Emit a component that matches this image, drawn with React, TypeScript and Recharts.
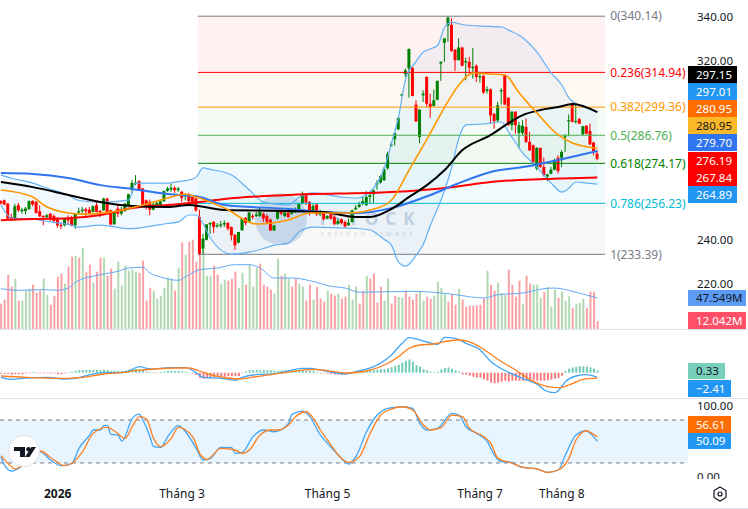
import { ComposedChart, Bar, Line, Area, XAxis, YAxis, Cell, ReferenceLine, ReferenceArea } from 'recharts';

const FONT = '"Noto Sans", sans-serif';
const CHART_W = 748;
const AXIS_W = 58;
const X_DOMAIN: [number, number] = [-0.25, 194.1];

const opens = [
  257.3, 257.6, 256.1, 250.1, 249.0, 255.4, 252.7, 252.8, 253.6, 257.3,
  256.9, 252.7, 250.6, 250.1, 251.6, 250.6, 249.0, 246.5, 246.4, 249.4,
  249.7, 246.4, 252.1, 252.8, 253.6, 253.4, 252.4, 255.4, 252.8, 253.1,
  258.4, 253.1, 246.8, 253.9, 251.6, 252.8, 255.4, 262.4, 265.1, 266.2,
  262.9, 257.6, 256.9, 253.4, 255.4, 255.4, 257.2, 261.8, 262.4, 263.2,
  262.1, 261.4, 259.4, 260.3, 259.1, 258.4, 250.1, 235.9, 239.9, 246.8,
  247.9, 245.9, 246.2, 246.8, 247.4, 245.6, 242.2, 238.6, 244.1, 249.7,
  247.9, 250.6, 250.6, 250.6, 251.6, 250.6, 248.9, 244.1, 249.4, 253.1,
  250.6, 252.1, 251.6, 252.2, 252.4, 256.1, 259.9, 256.9, 252.4, 255.7,
  251.2, 252.1, 249.4, 252.4, 250.1, 247.1, 249.1, 247.9, 246.4, 247.9,
  253.6, 254.6, 256.1, 255.4, 259.1, 260.3, 264.7, 265.6, 266.6, 271.9,
  282.3, 285.0, 289.4, 304.6, 314.1, 316.7, 317.0, 300.5, 285.9, 304.7,
  312.9, 300.9, 299.9, 302.7, 318.9, 328.2, 335.9, 336.2, 325.2, 320.4,
  326.1, 319.4, 319.7, 316.8, 317.9, 312.9, 313.4, 306.6, 307.3, 296.4,
  293.4, 306.7, 313.8, 303.6, 291.3, 297.3, 287.8, 287.8, 290.5, 283.8,
  282.3, 271.8, 281.1, 272.5, 268.3, 269.5, 271.3, 276.7, 276.7, 286.0,
  293.2, 301.0, 292.9, 294.0, 287.2, 291.0, 288.7, 283.5, 278.5,
];
const closes = [
  256.1, 255.7, 249.4, 248.6, 254.9, 253.1, 253.4, 253.9, 257.2, 255.7,
  251.9, 250.4, 250.1, 250.9, 249.4, 248.3, 246.4, 246.2, 249.4, 248.6,
  246.4, 251.6, 252.7, 253.4, 252.7, 251.6, 254.9, 252.4, 252.4, 258.4,
  252.4, 246.8, 252.7, 251.6, 252.8, 256.1, 260.3, 265.4, 265.5, 262.4,
  255.4, 255.4, 253.4, 255.8, 256.4, 257.2, 261.7, 262.9, 263.2, 262.1,
  262.9, 258.6, 259.9, 257.3, 256.9, 253.1, 233.6, 240.4, 246.8, 247.4,
  245.6, 246.4, 246.8, 247.4, 244.9, 241.9, 237.4, 243.4, 249.4, 247.4,
  252.1, 250.1, 251.2, 252.4, 249.4, 247.9, 244.1, 246.4, 253.1, 251.6,
  252.1, 250.1, 253.1, 253.4, 256.1, 260.3, 256.6, 252.4, 255.1, 251.3,
  252.7, 249.1, 250.6, 249.4, 247.1, 248.3, 247.4, 245.9, 247.6, 253.1,
  254.3, 255.7, 257.3, 259.1, 259.9, 262.1, 265.4, 268.5, 271.6, 278.3,
  282.6, 287.7, 294.6, 305.1, 315.9, 325.4, 304.4, 293.0, 298.3, 305.4,
  300.9, 299.4, 302.4, 311.1, 319.7, 330.2, 339.5, 324.6, 320.4, 326.1,
  317.9, 320.0, 317.1, 317.4, 312.9, 313.2, 305.9, 307.3, 295.7, 293.1,
  300.2, 307.0, 300.5, 291.3, 297.3, 291.3, 291.3, 291.0, 283.8, 280.0,
  274.8, 281.1, 272.5, 268.8, 269.2, 271.3, 275.1, 270.7, 279.3, 286.3,
  293.5, 292.8, 293.2, 292.0, 290.8, 287.5, 282.7, 279.7, 276.2,
];
const highs = [
  257.6, 257.9, 256.4, 251.6, 256.1, 256.4, 254.3, 254.6, 257.6, 257.6,
  257.3, 255.4, 250.9, 251.6, 251.9, 251.3, 250.1, 247.9, 249.7, 250.9,
  250.6, 251.9, 254.3, 254.6, 254.3, 254.6, 255.4, 256.9, 253.4, 258.7,
  258.7, 253.4, 252.8, 256.1, 254.6, 256.4, 260.6, 266.6, 268.9, 266.6,
  263.2, 257.9, 257.9, 256.9, 256.9, 257.6, 262.1, 263.6, 265.1, 263.9,
  263.6, 261.8, 260.6, 260.9, 259.9, 259.9, 253.4, 242.6, 246.8, 247.9,
  248.3, 247.4, 248.3, 248.6, 247.9, 245.9, 242.3, 243.4, 249.7, 250.1,
  252.4, 251.6, 252.4, 254.3, 252.1, 251.3, 249.4, 246.4, 253.4, 253.4,
  252.8, 252.7, 253.9, 254.3, 256.4, 261.5, 260.6, 257.2, 256.1, 256.4,
  253.4, 252.4, 250.9, 252.7, 250.9, 249.4, 249.4, 248.6, 249.4, 253.4,
  255.4, 256.9, 259.1, 261.8, 261.8, 262.4, 266.6, 268.9, 272.6, 279.4,
  283.7, 288.2, 294.6, 305.4, 316.7, 325.7, 317.4, 302.4, 298.3, 306.9,
  313.2, 305.4, 307.2, 311.4, 319.9, 330.2, 340.4, 339.2, 325.2, 330.2,
  326.4, 321.6, 321.9, 325.9, 318.5, 315.2, 313.7, 308.7, 307.7, 296.7,
  301.7, 307.8, 314.2, 303.7, 297.6, 297.6, 292.8, 293.5, 294.3, 288.3,
  282.6, 281.5, 281.2, 276.7, 269.5, 272.5, 276.3, 277.8, 280.0, 287.2,
  296.1, 301.3, 300.7, 294.6, 291.0, 291.3, 292.0, 283.8, 280.0,
];
const lows = [
  255.8, 255.4, 249.0, 248.3, 248.3, 252.4, 251.6, 251.3, 253.4, 254.9,
  251.6, 250.1, 246.4, 249.4, 248.3, 247.4, 245.3, 244.7, 245.9, 246.8,
  245.9, 244.7, 251.3, 251.6, 250.1, 251.3, 252.2, 252.2, 250.1, 252.8,
  251.6, 246.4, 246.8, 250.1, 250.9, 252.5, 255.0, 260.6, 264.4, 262.1,
  254.9, 253.4, 250.9, 253.1, 254.9, 255.0, 256.9, 261.4, 261.4, 260.9,
  261.4, 256.9, 257.6, 255.4, 255.4, 252.4, 232.9, 233.6, 239.6, 242.6,
  242.9, 245.3, 245.3, 245.6, 244.1, 239.6, 235.4, 238.4, 244.1, 246.4,
  247.6, 249.0, 250.1, 250.1, 247.9, 247.4, 243.8, 243.8, 249.0, 250.9,
  250.1, 249.7, 251.1, 251.9, 252.1, 255.8, 255.4, 250.9, 252.1, 250.6,
  250.6, 248.6, 249.1, 248.9, 246.4, 246.7, 246.8, 245.3, 246.1, 247.6,
  253.1, 254.3, 255.4, 255.1, 256.1, 256.4, 262.4, 265.1, 266.3, 271.4,
  281.7, 282.2, 289.2, 304.2, 312.9, 303.6, 304.2, 292.7, 283.2, 301.7,
  299.4, 294.6, 299.7, 302.4, 311.1, 319.7, 328.7, 324.2, 315.6, 320.4,
  317.7, 311.4, 314.4, 312.2, 310.7, 310.4, 305.4, 305.4, 291.9, 289.7,
  292.7, 300.5, 300.3, 291.0, 289.0, 287.5, 280.8, 286.8, 283.3, 279.7,
  272.8, 271.0, 272.2, 268.3, 266.2, 269.2, 271.0, 269.5, 272.5, 279.3,
  286.3, 292.5, 292.0, 291.7, 286.9, 287.2, 282.3, 277.8, 275.5,
];

const volumes = [
  38.8, 44.9, 83.1, 64.8, 77, 43.4, 43.4, 58.7, 61.7, 67.8,
  55.6, 58.7, 77, 52.5, 37.2, 51, 80.1, 84.7, 69.4, 95.4,
  110.7, 112.2, 109.1, 124.4, 87.7, 98.4, 70.9, 87.7, 109.1, 109.1,
  81.6, 92.3, 61.7, 103, 66.3, 96.9, 89.3, 90.8, 87.7, 85.7,
  104.6, 43.4, 63.2, 58.7, 46.4, 51, 63.2, 78.5, 77, 58.7,
  93.8, 132.1, 113.7, 133.6, 136.7, 103, 121.4, 121.4, 81.6, 81.6,
  96.9, 83.1, 69.4, 75.5, 74, 77, 87.7, 63.2, 86.2, 67.8,
  100, 64.8, 93.8, 100, 67.8, 64.8, 60.2, 54.1, 107.6, 81.6,
  84.7, 77, 64.8, 77, 69.4, 64.8, 43.4, 67.8, 44.9, 64.8,
  46.4, 41.8, 58.7, 54.1, 51, 54.1, 46.4, 49.5, 67.8, 44.9,
  64.8, 38.8, 58.7, 81.6, 77, 84.7, 40.3, 64.8, 43.4, 77,
  38.8, 51, 49, 47.9, 58.7, 49.5, 44.9, 54.1, 58.7, 43.4,
  49.5, 46.4, 51, 72.4, 63.2, 54.1, 41.8, 52.5, 37.2, 61.7,
  44.9, 34.2, 35.7, 35.7, 35.7, 37.2, 46.4, 89.3, 67.8, 58.7,
  70.9, 55.6, 52, 90.8, 67.8, 49.5, 74, 38.8, 81.6, 69.4,
  67.8, 67.8, 47.9, 57.1, 64.3, 34.2, 60.2, 47.9, 57.1, 43.4,
  50, 32.6, 38.8, 39.8, 46.4, 32.6, 57.1, 57.1, 12.042,
];
const volumeSides =
  'rrrrgrgggr' + 'rrggrrrrgr' + 'rgrgrrgrrg' + 'rrgggggggr' + 'rrrggggggr' +
  'grgrrrrggg' + 'rrggrrrggr' + 'gggrrrrggr' + 'ggrrggrrgr' + 'rrgrrgrrgg' +
  'grrgrrrrgg' + 'rrggrrrrgg' + 'rrggggrrrg' + 'rrrrrrrgrr' + 'gggrrrrgrr' +
  'gggrgggrgg' + 'grgggrrrr';

const macdHist = [
  -0.5, -0.5, -0.6, -1, -0.8, -0.8, -0.8, -0.4, -0.3, 0.3,
  -0.3, -0.3, -0.3, -0.3, -0.4, -0.4, -0.8, -0.8, -0.3, 0.3,
  0.5, 1, 1.3, 1.4, 1.4, 1.4, 1.4, 1.4, 1.4, 1.4,
  1.3, 0.9, 1, 1, 1, 1, 1.2, 1.6, 1.8, 1.8,
  1.6, 0.6, 0.3, -0.3, -0.3, 0.4, 0.6, 0.9, 1, 0.8,
  0.9, 0.7, 0.5, 0.2, -0.3, -1.2, -2.5, -3, -2.8, -2.8,
  -2.5, -2.2, -2.2, -2, -1.8, -1.8, -1.7, -1.7, -0.3, 0.6,
  1.2, 1.3, 1.3, 1.2, 1.3, 1.3, 1.2, 1, 0.8, 1.2,
  1.2, 1.1, 1, 1.1, 1.2, 1.2, 1.2, 1, 1, 0.3,
  -0.3, -0.3, -0.5, -0.7, -0.8, -1, -1, -1, -0.6, -0.3,
  0.3, 0.6, 0.8, 1, 1.2, 1.3, 1.5, 1.7, 1.8, 2.2,
  2.7, 3.4, 4, 5, 6, 6.6, 5.5, 3.7, 3, 1.7,
  1.2, 0.5, 0.3, 0.5, 1.7, 2.4, 2.6, 2, 1.2, 0.6,
  -0.8, -1, -1.5, -2, -2.4, -2.4, -3.3, -4, -5, -5.3,
  -5, -4.5, -4, -4.5, -4, -4, -4, -4, -4, -4,
  -3.8, -4, -4, -4, -3.8, -3.5, -3, -2.7, -1.5, 0.8,
  2, 2.6, 3, 3.2, 3.2, 3, 2.7, 2, 1,
];

// indicator lines are read at knots: [bar index, value]
const maRed = [[0, 248.7], [9, 249.2], [19, 249.6], [28, 251], [37, 254.1], [47, 255.5], [56, 256.8], [63, 258.2], [81, 260], [110, 261.3], [127, 263.5], [138, 265.8], [153, 267.1], [168, 267.84]];
const maBlack = [[0, 265.8], [9, 263.5], [19, 260], [28, 256.8], [37, 255], [47, 254.6], [53, 255.5], [63, 253.2], [81, 252.8], [91, 252.3], [100, 250.1], [104, 250.1], [110, 253.7], [115, 259.1], [120, 264.4], [125, 271.2], [130, 280.1], [138, 286.9], [143, 292.2], [147, 295.8], [152, 298.1], [157, 299.4], [161, 300.8], [168, 297.15]];
const maBlue = [[0, 269.8], [9, 269.4], [19, 267.6], [28, 264.4], [37, 262.7], [47, 260.4], [56, 259.1], [63, 255.5], [81, 253.7], [91, 252.3], [100, 251.9], [110, 254.1], [121, 260], [129, 265.3], [138, 270.3], [147, 272.5], [157, 275.7], [168, 279.7]];
const maOrange = [[0, 262.2], [9, 259.1], [12, 255.5], [19, 251.9], [23, 251.4], [31, 252.3], [40, 255.5], [47, 258.6], [52, 260.4], [55, 259.1], [63, 254.1], [72, 247], [81, 248.8], [87, 251.9], [98, 251.9], [106, 254.1], [110, 257.7], [115, 271.2], [121, 287.8], [125, 299.4], [129, 309.3], [133, 314.7], [138, 314.2], [142, 313.8], [146, 305.7], [151, 296.7], [157, 286.9], [161, 283.3], [168, 280.95]];

const bbIndex = [0, 3, 9, 14, 19, 22, 28, 36, 38, 44, 47, 50, 53, 55, 57, 59, 65, 70, 74, 77, 81, 84, 88, 96, 100, 104, 108, 110, 112, 114, 117, 119, 121, 123, 125, 127, 129, 131, 136, 141, 143, 147, 151, 155, 158, 160, 162, 165, 168];
const bbUpper = [268.9, 267.5, 265.3, 262.5, 260, 257.5, 256.8, 257.7, 265.3, 265.3, 265.3, 266, 266.7, 268, 272.1, 271.5, 268.9, 262.2, 256.8, 256, 255.5, 259, 260.9, 259, 258.6, 261.5, 272.1, 283, 294.9, 312, 320, 324.1, 325.5, 327, 335.3, 337.5, 336.8, 336.2, 335.7, 335.3, 333.9, 330.5, 324, 314.7, 309.3, 303.5, 301, 299, 297.01];
const bbLower = [255.5, 249.6, 249.2, 247.9, 246.8, 245.6, 246.5, 244.9, 245, 246.5, 247.2, 247.9, 251, 251, 247, 240.7, 233.5, 234.4, 236, 237.5, 238.4, 243.4, 245.6, 245.2, 245, 244.3, 240, 237.5, 229.9, 228.1, 233, 238, 246.5, 254, 262.2, 272.5, 285.5, 291.4, 291.8, 292.7, 288.2, 278.8, 272.5, 265.3, 261.3, 263, 265.8, 265.3, 264.89];

const volumeMa = [[0, 61.7], [5, 59.2], [12, 60.2], [16, 59.2], [19, 62.7], [21, 71.4], [28, 83.1], [33, 88.2], [36, 93.3], [40, 94.4], [42, 85.7], [45, 79.6], [50, 74.5], [53, 83.1], [56, 90.8], [61, 93.3], [66, 98.4], [70, 98.4], [73, 93.3], [77, 78], [82, 78], [87, 74], [93, 65.3], [97, 62.7], [101, 56.1], [115, 57.6], [121, 56.6], [128, 52.5], [136, 47.4], [140, 52.5], [147, 55.1], [153, 61.7], [156, 62.7], [162, 56.1], [168, 47.549]];

const macdLine = [[0, -2.3], [3, -3.3], [7, -2.65], [13, -2.3], [18, -3.2], [21, -2.8], [24, -1.5], [29, 0], [34, 0], [37, 1.7], [39, 3], [42, 1.9], [48, 2.5], [52, 2.5], [55, 0], [57, -2.3], [62, -2.8], [66, -3.8], [68, -2.3], [71, -1.15], [78, -0.3], [85, 2.2], [87, 2.2], [90, 1.35], [95, -0.3], [97, -0.65], [100, 0.5], [105, 3], [110, 8.85], [113, 14.7], [115, 17.5], [117, 16.9], [120, 15.35], [123, 14.2], [125, 17.7], [128, 17.2], [131, 14.7], [135, 11.35], [138, 5.5], [140, 3], [143, 0.2], [147, -2.8], [152, -7], [153, -8.65], [156, -10], [157, -9], [159, -4.5], [162, -1.65], [165, -1], [168, -2.41]];
const macdSignal = [[0, -1.65], [7, -2.3], [18, -2.8], [22, -2.5], [29, -0.65], [34, 0], [38, 1], [43, 1.85], [50, 2.35], [53, 2.35], [56, 0.85], [60, -1.5], [67, -3.15], [72, -2], [80, 0], [88, 1.7], [92, 1], [97, -0.15], [103, 0.85], [108, 3.85], [112, 8], [115, 12.2], [118, 13.85], [122, 14.35], [126, 15.85], [129, 16.35], [133, 14.7], [137, 10.5], [141, 5.5], [145, 1.35], [150, -4.5], [154, -7], [157, -7.5], [160, -6.15], [164, -3.3], [168, -2.74]];

const stochK = [[0, 28.8], [1, 17.2], [3, 8.8], [5, 12.5], [11, 35.8], [14, 24.1], [17, 16.2], [20, 19.5], [22, 40.4], [25, 59], [26, 66], [28, 66], [29, 72], [30, 72], [31, 59.9], [33, 59], [34, 50.6], [35, 56.7], [36, 70.6], [37, 82.3], [39, 88.3], [40, 79.9], [42, 56.7], [43, 42.7], [45, 41.8], [47, 56.7], [50, 72], [52, 63.6], [55, 40.4], [57, 24.1], [59, 26.4], [62, 41.8], [65, 41.3], [66, 33.4], [68, 34.8], [71, 56.7], [74, 66], [77, 63.6], [81, 75.3], [82, 87.8], [85, 92.5], [87, 84.6], [90, 59], [92, 47.4], [95, 31.1], [98, 18.5], [100, 28.8], [103, 63.6], [106, 86.9], [109, 96.2], [113, 98.5], [116, 96.2], [118, 75.3], [120, 66], [123, 68.3], [127, 89.2], [129, 86.9], [131, 70.6], [134, 61.3], [137, 49.7], [139, 31.1], [141, 21.8], [144, 20.9], [146, 14.8], [151, 11.6], [154, 6.9], [157, 10.2], [159, 31.1], [162, 59], [165, 65], [166, 61.3], [168, 50.09]];
const stochD = [[0, 30.2], [3, 14.8], [4, 11.6], [11, 36.7], [15, 24.1], [18, 16.2], [20, 19.5], [23, 35.8], [26, 61.3], [30, 69.7], [32, 64.6], [35, 54.3], [37, 70.6], [39, 84.6], [41, 81.3], [43, 54.3], [45, 42.7], [48, 54.3], [50, 69.7], [54, 56.7], [56, 33.4], [58, 25], [62, 40.4], [66, 38.1], [68, 33.4], [70, 38.1], [73, 59], [76, 66], [78, 66], [81, 72.9], [83, 84.6], [86, 91.5], [88, 82.3], [90, 66], [93, 45], [95, 31.1], [98, 20.9], [101, 28.8], [104, 61.3], [107, 86.9], [110, 95.3], [113, 98.5], [116, 93.9], [119, 73], [121, 66], [124, 69.2], [127, 86.9], [130, 84.6], [132, 68.3], [136, 56.7], [138, 47.4], [140, 26.4], [144, 19.5], [147, 13.9], [151, 11.6], [154, 6.9], [157, 10.2], [160, 26.4], [162, 52], [165, 65], [166, 62.7], [168, 56.61]];

const fibLevels = [340.14, 314.94, 299.36, 286.76, 274.17, 256.23, 233.39];
const fibLabels = ['0(340.14)', '0.236(314.94)', '0.382(299.36)', '0.5(286.76)', '0.618(274.17)', '0.786(256.23)', '1(233.39)'];
const fibColors = ['#787b86', '#ff0000', '#ff9800', '#4caf50', '#008000', '#00bcd4', '#787b86'];
const fibBands = ['#ff0000', '#ff9800', '#4caf50', '#008000', '#00bcd4', '#787b86'];
const FIB_START = 55.5;
const FIB_END = 170.2;

const priceTicks = [340, 320, 240, 220];
const stochTicks = [100, 0];
const timeIndex = [16, 51, 92, 135, 158];
const timeLabels = ['2026', 'Tháng 3', 'Tháng 5', 'Tháng 7', 'Tháng 8'];

const priceBadges = [
  { text: '297.15', bg: '#000000', fg: '#ffffff' },
  { text: '297.01', bg: '#2196f3', fg: '#ffffff' },
  { text: '280.95', bg: '#ff6d00', fg: '#ffffff' },
  { text: '280.95', bg: '#fbb829', fg: '#131722' },
  { text: '279.70', bg: '#2f74f0', fg: '#ffffff' },
  { text: '276.19', bg: '#ff0000', fg: '#ffffff' },
  { text: '267.84', bg: '#ff0000', fg: '#ffffff' },
  { text: '264.89', bg: '#2196f3', fg: '#ffffff' },
];

const rows = opens.map((open, i) => ({
  i,
  open,
  close: closes[i],
  high: highs[i],
  low: lows[i],
  volume: volumes[i],
  hist: macdHist[i],
}));

const points = (knots: number[][]) => knots.map(([i, v]) => ({ i, v }));
const bandRows = bbIndex.map((i, n) => ({ i, band: [bbLower[n], bbUpper[n]], upper: bbUpper[n], lower: bbLower[n] }));

function Candle(props: any) {
  const { x, y, width, height, payload } = props;
  const h = Math.abs(height);
  const range = payload.high - payload.low || 1;
  const top = y + ((payload.high - Math.max(payload.open, payload.close)) / range) * h;
  const bodyH = (Math.abs(payload.open - payload.close) / range) * h;
  const color = payload.close >= payload.open ? '#008000' : '#ff0000';
  return (
    <g>
      <rect x={x + width / 2 - 0.5} y={y} width={1} height={h} fill={color} />
      <rect x={x} y={top} width={width} height={Math.max(bodyH, 1.2)} fill={color} />
    </g>
  );
}

function TimeTick(props: any) {
  const { x, y, index } = props;
  return (
    <text x={x} y={y} dy={11} textAnchor="middle" fontFamily={FONT} fontSize={12} fill="#131722" fontWeight={index === 0 ? 700 : 400}>
      {timeLabels[index]}
    </text>
  );
}

function Badge({ text, bg, fg, top, width, height = 17 }: any) {
  return (
    <div
      style={{
        position: 'absolute', left: 688, top, width, height, background: bg, color: fg,
        fontFamily: FONT, fontSize: 11.5, lineHeight: height + 'px', textAlign: 'left', paddingLeft: 8, boxSizing: 'border-box',
      }}
    >
      {text}
    </div>
  );
}

const knotLine = (key: string, knots: number[][], stroke: string, strokeWidth: number) => (
  <Line key={key} data={points(knots)} dataKey="v" stroke={stroke} strokeWidth={strokeWidth} dot={false} activeDot={false} type="monotone" isAnimationActive={false} />
);

const pane = (top: number): any => ({ position: 'absolute', left: 0, top });
const divider = (top: number): any => ({ position: 'absolute', left: 0, top, width: CHART_W, height: 1, background: '#e0e3eb' });

export default function App() {
  return (
    <div style={{ position: 'fixed', left: 0, top: 0, width: CHART_W, height: 509, background: '#ffffff', overflow: 'hidden' }}>
      {/* volume sits behind the price pane */}
      <div style={pane(229)}>
        <ComposedChart width={CHART_W} height={100} data={rows} margin={{ top: 0, right: AXIS_W, bottom: 0, left: 0 }}>
          <XAxis dataKey="i" type="number" domain={X_DOMAIN} hide allowDataOverflow />
          <YAxis domain={[0, 153]} hide allowDataOverflow />
          <Bar dataKey="volume" barSize={2} isAnimationActive={false}>
            {rows.map((r) => (
              <Cell key={r.i} fill={volumeSides[r.i] === 'g' ? '#b0d9b1' : '#faa1a4'} />
            ))}
          </Bar>
          {knotLine('volMa', volumeMa, '#64a8f5', 1)}
        </ComposedChart>
      </div>

      {/* watermark */}
      <svg width={CHART_W} height={329} style={pane(0)}>
        <circle cx={281} cy={219} r={26} fill="#d5e1ef" />
        <text x={320} y={225} fontFamily={FONT} fontSize={17} fontWeight={700} letterSpacing={7} fill="#ccd9e8">iSTOCK</text>
        <text x={321} y={236} fontFamily={FONT} fontSize={7} letterSpacing={3.4} fill="#d8dde4">refresh always</text>
      </svg>

      <div style={pane(0)}>
        <ComposedChart width={CHART_W} height={329} data={rows} margin={{ top: 0, right: 0, bottom: 0, left: 0 }}>
          <XAxis dataKey="i" type="number" domain={X_DOMAIN} hide allowDataOverflow />
          <YAxis
            orientation="right"
            width={AXIS_W}
            domain={[199.9, 347.4]}
            ticks={priceTicks}
            tickFormatter={(v: number) => v.toFixed(2)}
            tickLine={false}
            axisLine={false}
            tickMargin={1}
            tick={{ fontFamily: FONT, fontSize: 11.5, fill: '#131722' }}
            allowDataOverflow
          />
          {fibBands.map((color, n) => (
            <ReferenceArea key={n} x1={FIB_START} x2={FIB_END} y1={fibLevels[n + 1]} y2={fibLevels[n]} fill={color} fillOpacity={0.055} stroke="none" />
          ))}
          {fibLevels.map((level, n) => (
            <ReferenceLine
              key={n}
              segment={[{ x: FIB_START, y: level }, { x: FIB_END, y: level }]}
              stroke={fibColors[n]}
              strokeWidth={1}
              label={{ value: fibLabels[n], position: 'right', fill: fibColors[n], fontFamily: FONT, fontSize: 12 }}
            />
          ))}
          <Area data={bandRows} dataKey="band" stroke="none" fill="#2196f3" fillOpacity={0.06} dot={false} activeDot={false} type="monotone" isAnimationActive={false} />
          <Line data={bandRows} dataKey="upper" stroke="#64b0f5" strokeWidth={1.2} dot={false} activeDot={false} type="monotone" isAnimationActive={false} />
          <Line data={bandRows} dataKey="lower" stroke="#64b0f5" strokeWidth={1.2} dot={false} activeDot={false} type="monotone" isAnimationActive={false} />
          {knotLine('red', maRed, '#ff0000', 2)}
          {knotLine('blue', maBlue, '#2f74f0', 2)}
          {knotLine('black', maBlack, '#000000', 2)}
          {knotLine('orange', maOrange, '#ff9800', 1.6)}
          <Bar dataKey={(d: any) => [d.low, d.high]} barSize={3} shape={<Candle />} isAnimationActive={false} />
        </ComposedChart>
      </div>

      <div style={divider(329)} />

      <div style={pane(330)}>
        <ComposedChart width={CHART_W} height={68} data={rows} margin={{ top: 0, right: AXIS_W, bottom: 0, left: 0 }}>
          <XAxis dataKey="i" type="number" domain={X_DOMAIN} hide allowDataOverflow />
          <YAxis domain={[-12.65, 21.35]} hide allowDataOverflow />
          <Bar dataKey="hist" barSize={2} isAnimationActive={false}>
            {rows.map((r) => (
              <Cell key={r.i} fill={r.hist >= 0 ? '#6fcbb5' : '#f77c80'} />
            ))}
          </Bar>
          {knotLine('macd', macdLine, '#42a5f5', 1.3)}
          {knotLine('signal', macdSignal, '#ff7f1e', 1.3)}
        </ComposedChart>
      </div>

      <div style={divider(398)} />

      <div style={pane(399)}>
        <ComposedChart width={CHART_W} height={109} data={rows} margin={{ top: 0, right: 0, bottom: 0, left: 0 }}>
          <XAxis
            dataKey="i"
            type="number"
            domain={X_DOMAIN}
            ticks={timeIndex}
            height={29}
            tickLine={false}
            axisLine={false}
            tick={<TimeTick />}
            interval={0}
            allowDataOverflow
          />
          <YAxis
            orientation="right"
            width={AXIS_W}
            domain={[-2.4, 109.3]}
            ticks={stochTicks}
            tickFormatter={(v: number) => v.toFixed(2)}
            tickLine={false}
            axisLine={false}
            tickMargin={1}
            tick={{ fontFamily: FONT, fontSize: 11.5, fill: '#131722' }}
            allowDataOverflow
          />
          <ReferenceArea x1={-0.25} x2={193.5} y1={20} y2={80} fill="#2196f3" fillOpacity={0.1} stroke="none" />
          <ReferenceLine segment={[{ x: -0.25, y: 80 }, { x: 193.5, y: 80 }]} stroke="#787b86" strokeDasharray="4 4" />
          <ReferenceLine segment={[{ x: -0.25, y: 20 }, { x: 193.5, y: 20 }]} stroke="#787b86" strokeDasharray="4 4" />
          {knotLine('k', stochK, '#42a5f5', 1.3)}
          {knotLine('d', stochD, '#ff7f1e', 1.3)}
        </ComposedChart>
      </div>

      <div style={{ position: 'absolute', left: 690, top: 479, width: 58, height: 10, background: '#ffffff' }} />
      <div style={divider(508)} />

      {priceBadges.map((b, n) => (
        <Badge key={n} text={b.text} bg={b.bg} fg={b.fg} top={66 + n * 17.1} width={49} />
      ))}
      <Badge text="47.549M" bg="#5b9cf6" fg="#131722" top={290} width={58} height={16} />
      <Badge text="12.042M" bg="#ff5068" fg="#ffffff" top={312} width={58} />
      <Badge text="0.33" bg="#76d0bc" fg="#131722" top={363} width={37} height={16} />
      <Badge text="−2.41" bg="#2196f3" fg="#ffffff" top={380} width={43} />
      <Badge text="56.61" bg="#ff6d00" fg="#ffffff" top={416} width={43} />
      <Badge text="50.09" bg="#2196f3" fg="#ffffff" top={433} width={43} height={16} />

      {/* TradingView badge and settings icon */}
      <svg width={CHART_W} height={509} style={{ ...pane(0), pointerEvents: 'none' }}>
        <circle cx={24} cy={451} r={15.5} fill="#ffffff" stroke="#e0e3eb" strokeWidth={1} />
        <path d="M14 447 h11 v10 h-5 v-6 h-6z" fill="#131722" />
        <circle cx={28.5} cy={449.3} r={2.3} fill="#131722" />
        <path d="M31.5 447 h4.5 l-6.5 10 h-4.5z" fill="#131722" />
        <path d="M720 487 l6 3.5 v7 l-6 3.5 l-6 -3.5 v-7z" fill="none" stroke="#131722" strokeWidth={1.2} />
        <circle cx={720} cy={494} r={2} fill="none" stroke="#131722" strokeWidth={1.2} />
      </svg>
    </div>
  );
}
